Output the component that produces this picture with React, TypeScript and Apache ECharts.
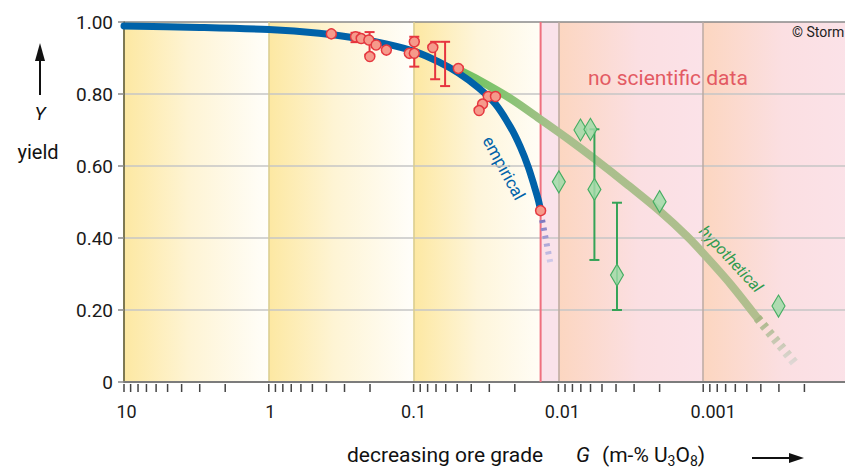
import React, { useEffect, useRef } from 'react';
import * as echarts from 'echarts';

// ---- data ----
const xTickLabels = ['10', '1', '0.1', '0.01', '0.001'];
const yTickLabels = ['0', '0.20', '0.40', '0.60', '0.80', '1.00'];
const redLineX = 0.01327;

const empiricalCurve: number[][] = [
  [10, 0.989], [3, 0.985], [1, 0.979], [0.449, 0.969], [0.266, 0.957], [0.1552, 0.939],
  [0.0966, 0.917], [0.0671, 0.889], [0.0489, 0.858], [0.0356, 0.817], [0.02722, 0.772],
  [0.02143, 0.708], [0.01832, 0.653], [0.01614, 0.597], [0.01467, 0.544], [0.01377, 0.506],
  [0.01327, 0.477],
];
const empiricalTail: number[][] = [[0.01327, 0.472], [0.0113, 0.325]];

const hypotheticalCurve: number[][] = [
  [0.0489, 0.867], [0.0356, 0.839], [0.02113, 0.786], [0.01313, 0.728], [0.00857, 0.675],
  [0.00559, 0.619], [0.00331, 0.547], [0.001963, 0.472], [0.00128, 0.403], [0.000977, 0.353],
  [0.000648, 0.272], [0.000423, 0.178],
];
const hypotheticalTail: number[][] = [[0.000423, 0.178], [0.000224, 0.044]];

const measuredPoints: number[][] = [
  [0.37, 0.967], [0.2518, 0.959], [0.2301, 0.954], [0.2037, 0.95], [0.2006, 0.904],
  [0.1816, 0.936], [0.1542, 0.922], [0.1071, 0.913], [0.0989, 0.945], [0.0989, 0.913],
  [0.0737, 0.929], [0.0491, 0.871], [0.0305, 0.793], [0.0272, 0.793], [0.0334, 0.772],
  [0.0353, 0.754], [0.01327, 0.476],
];
const measuredErrors: number[][] = [
  [0.2518, 0.944, 0.97], [0.2014, 0.909, 0.972], [0.0989, 0.876, 0.959],
  [0.071, 0.841, 0.945], [0.0606, 0.822, 0.945],
];

const hypoPoints: number[][] = [
  [0.00993, 0.556], [0.00704, 0.7], [0.00601, 0.702], [0.00564, 0.535],
  [0.00394, 0.297], [0.002, 0.501], [0.000302, 0.211],
];
const hypoErrors: number[][] = [[0.00564, 0.339, 0.702], [0.00394, 0.2, 0.498]];

const bandRanges: number[][] = [
  [10, 1], [1, 0.1], [0.1, redLineX], [redLineX, 0.01], [0.01, 0.001], [0.001, 0.0001],
];

const xTickValues: number[] = [];
for (let e = 1; e >= -4; e--) {
  for (let m = 1; m <= 9; m++) {
    const v = parseFloat((m * Math.pow(10, e)).toPrecision(6));
    if (v >= 0.0001 && v <= 10) xTickValues.push(v);
  }
}

const FONT = "Roboto, 'Noto Sans', sans-serif";
const labelShift = [5, 3, 0, 8, 20];

export default function App() {
  const ref = useRef<HTMLDivElement>(null);
  useEffect(() => {
    document.body.style.margin = '0';
    document.body.style.overflow = 'hidden';
    const chart = echarts.init(ref.current!, null, { renderer: 'svg' });
    const LG = echarts.graphic.LinearGradient;
    const yellow = () => new LG(0, 0, 1, 0, [
      { offset: 0, color: '#fde8a2' }, { offset: 0.45, color: '#fef4d4' }, { offset: 1, color: '#fffefa' },
    ]);
    const peach = () => new LG(0, 0, 1, 0, [
      { offset: 0, color: '#fcd6c0' }, { offset: 0.55, color: '#fbdfe2' }, { offset: 1, color: '#fbe2e8' },
    ]);
    const bandFills = [yellow(), yellow(), new LG(0, 0, 1, 0, [
      { offset: 0, color: '#fde8a2' }, { offset: 0.5, color: '#fef5da' }, { offset: 1, color: '#fffdf6' },
    ]), '#fae2ea', peach(), peach()];

    const errRender = (data: number[][], color: string) => (params: any, api: any) => {
      const d = data[params.dataIndex];
      const top = api.coord([d[0], d[2]]);
      const bot = api.coord([d[0], d[1]]);
      const st = { stroke: color, lineWidth: 2 };
      return {
        type: 'group',
        children: [
          { type: 'line', shape: { x1: top[0], y1: top[1], x2: bot[0], y2: bot[1] }, style: st },
          { type: 'line', shape: { x1: top[0] - 5, y1: top[1], x2: top[0] + 5, y2: top[1] }, style: st },
          { type: 'line', shape: { x1: bot[0] - 5, y1: bot[1], x2: bot[0] + 5, y2: bot[1] }, style: st },
        ],
      };
    };

    const rich: any = {};
    labelShift.forEach((s, i) => {
      rich['l' + i] = { fontSize: 18, fontFamily: FONT, color: '#1a1a1a', padding: [0, 0, 0, s] };
    });

    chart.setOption({
      animation: false,
      grid: { left: 124, top: 22, width: 727, height: 360 },
      xAxis: {
        type: 'log', logBase: 10, min: 0.0001, max: 10, inverse: true,
        axisLine: { show: true, onZero: false, lineStyle: { color: '#7c7c7c', width: 2 } },
        axisTick: { show: false },
        axisLabel: {
          margin: 20, color: '#1a1a1a', fontSize: 18, fontFamily: FONT, rich,
          formatter: (v: number) => {
            const e = Math.round(Math.log10(v));
            const i = 1 - e;
            return e >= -3 ? `{l${i}|${xTickLabels[i]}}` : '';
          },
        },
        splitLine: {
          show: true,
          lineStyle: { width: 1.5, color: ['#bba8a2', '#bba8a2', '#bba8a2', '#d9cd90', '#d9cd90', '#d9cd90'] },
        },
      },
      yAxis: {
        type: 'value', min: 0, max: 1, interval: 0.2,
        axisLine: { show: true, lineStyle: { color: '#5d5a3a', width: 1.5 } },
        axisTick: { show: true, length: 6, lineStyle: { color: '#888', width: 1.5 } },
        axisLabel: {
          margin: 11, color: '#1a1a1a', fontSize: 19, fontFamily: FONT,
          formatter: (v: number) => yTickLabels[Math.round(v / 0.2)],
        },
        splitLine: {
          show: true,
          lineStyle: { width: 1.5, color: ['#888', '#c6c6c6', '#c6c6c6', '#c6c6c6', '#c6c6c6', '#8a8a8a'] },
        },
      },
      series: [
        {
          type: 'custom', z: -1, silent: true, data: bandRanges, encode: { x: [0, 1] },
          renderItem: (params: any, api: any) => {
            const b = bandRanges[params.dataIndex];
            const p1 = api.coord([b[0], 1]);
            const p2 = api.coord([b[1], 0]);
            return {
              type: 'rect',
              shape: { x: p1[0], y: p1[1], width: p2[0] - p1[0], height: p2[1] - p1[1] },
              style: { fill: bandFills[params.dataIndex] },
            };
          },
        },
        {
          type: 'line', z: 1, silent: true, symbol: 'none',
          data: [[redLineX, 0], [redLineX, 1]],
          lineStyle: { color: '#ef6f7f', width: 2 },
        },
        {
          type: 'line', z: 2, symbol: 'none', smooth: 0.3, data: hypotheticalCurve,
          lineStyle: {
            width: 8, cap: 'round',
            color: new LG(0, 0, 1, 0, [
              { offset: 0, color: '#70c15e' }, { offset: 0.14, color: '#83c470' },
              { offset: 0.32, color: '#a8bf8c' }, { offset: 1, color: '#b1be8e' },
            ]),
          },
        },
        {
          type: 'line', z: 2, symbol: 'none', data: hypotheticalTail,
          lineStyle: {
            width: 9, type: [4, 5],
            color: new LG(0, 0, 0, 1, [
              { offset: 0, color: 'rgba(165,180,130,0.95)' }, { offset: 1, color: 'rgba(220,215,215,0.8)' },
            ]),
          },
        },
        {
          type: 'line', z: 3, symbol: 'none', smooth: 0.3, data: empiricalCurve,
          lineStyle: { width: 7, color: '#0062a9', cap: 'round' },
        },
        {
          type: 'line', z: 3, symbol: 'none', data: empiricalTail,
          lineStyle: {
            width: 6, type: [3, 5],
            color: new LG(0, 0, 0, 1, [
              { offset: 0, color: '#6d68b8' }, { offset: 1, color: '#d7d0ec' },
            ]),
          },
        },
        {
          type: 'custom', z: 4, data: measuredErrors, encode: { x: 0, y: [1, 2] },
          renderItem: errRender(measuredErrors, '#e6343f'),
        },
        {
          type: 'custom', z: 4, data: hypoErrors, encode: { x: 0, y: [1, 2] },
          renderItem: errRender(hypoErrors, '#34a356'),
        },
        {
          type: 'scatter', z: 5, data: measuredPoints, symbolSize: 10,
          itemStyle: { color: '#f69a8b', borderColor: '#e5383f', borderWidth: 1.5, opacity: 1 },
        },
        {
          type: 'scatter', z: 5, data: hypoPoints, symbol: 'diamond', symbolSize: [13, 22],
          itemStyle: { color: 'rgba(160,218,168,0.85)', borderColor: '#45ad62', borderWidth: 1.2, opacity: 1 },
        },
        {
          type: 'custom', z: 5, clip: false, silent: true,
          data: xTickValues.map((v) => [v, 0]), encode: { x: 0, y: 1 },
          renderItem: (params: any, api: any) => {
            const p = api.coord([xTickValues[params.dataIndex], 0]);
            return {
              type: 'line',
              shape: { x1: p[0], y1: p[1] + 2, x2: p[0], y2: p[1] + 10 },
              style: { stroke: '#444', lineWidth: 1.5 },
            };
          },
        },
      ],
      graphic: [
        { type: 'text', x: 588, y: 78, style: { text: 'no scientific data', fill: '#e35a63', font: `21px ${FONT}`, verticalAlign: 'middle' } },
        { type: 'text', x: 792, y: 32, style: { text: '© Storm', fill: '#222', font: `14px ${FONT}`, verticalAlign: 'middle' } },
        { type: 'text', x: 504, y: 168, rotation: -1.07, style: { text: 'empirical', fill: '#0062a9', font: `17px ${FONT}`, align: 'center', verticalAlign: 'middle' } },
        { type: 'text', x: 731, y: 259, rotation: -0.82, style: { text: 'hypothetical', fill: '#2f9b4f', font: `italic 16px ${FONT}`, align: 'center', verticalAlign: 'middle' } },
        // y axis name
        { type: 'line', shape: { x1: 40, y1: 95, x2: 40, y2: 58 }, style: { stroke: '#111', lineWidth: 2 } },
        { type: 'polygon', shape: { points: [[40, 43], [35, 61], [45, 61]] }, style: { fill: '#111' } },
        { type: 'text', x: 40, y: 113, style: { text: 'Y', fill: '#111', font: `italic 19px ${FONT}`, align: 'center', verticalAlign: 'middle' } },
        { type: 'text', x: 38, y: 152, style: { text: 'yield', fill: '#111', font: `20px ${FONT}`, align: 'center', verticalAlign: 'middle' } },
        // x axis name
        { type: 'text', x: 347, y: 455, style: { text: 'decreasing ore grade', fill: '#111', font: `21px ${FONT}`, verticalAlign: 'middle' } },
        { type: 'text', x: 576, y: 455, style: { text: 'G', fill: '#111', font: `italic 21px ${FONT}`, verticalAlign: 'middle' } },
        {
          type: 'text', x: 602, y: 455,
          style: {
            text: '{a|(m-% U}{s|3}{a|O}{s|8}{a|)}', verticalAlign: 'middle',
            rich: {
              a: { fill: '#111', font: `21px ${FONT}` },
              s: { fill: '#111', font: `14px ${FONT}`, padding: [12, 0, 0, 0] },
            },
          },
        },
        { type: 'line', shape: { x1: 752, y1: 458, x2: 792, y2: 458 }, style: { stroke: '#111', lineWidth: 2 } },
        { type: 'polygon', shape: { points: [[804, 458], [789, 453], [789, 463]] }, style: { fill: '#111' } },
      ],
    });
    return () => chart.dispose();
  }, []);
  return <div ref={ref} style={{ width: 851, height: 468 }} />;
}
